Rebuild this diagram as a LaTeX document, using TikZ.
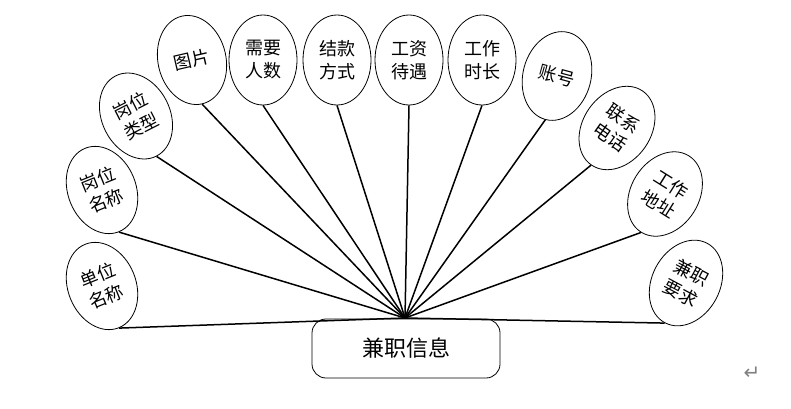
\documentclass[tikz,border=0pt]{standalone}
\usepackage{fontspec}
\usepackage{tikz}
\usetikzlibrary{shapes.geometric,positioning,calc}
\newfontfamily\cjk{Noto Sans CJK SC}
\newfontfamily\symfont{DejaVu Sans}
\tikzset{
  attr/.style={draw,ellipse,line width=0.8pt,minimum width=68pt,minimum height=90pt,inner sep=0pt,align=center,font=\cjk\fontsize{18}{23}\selectfont},
  entity/.style={draw,rounded corners=14pt,line width=0.8pt,minimum width=188pt,minimum height=59pt,font=\cjk\fontsize{22}{26}\selectfont},
  link/.style={line width=1.5pt}
}

\begin{document}
\begin{tikzpicture}[x=1pt,y=1pt]
\useasboundingbox (0,0) rectangle (791,408);
\coordinate (hub) at (405,90);
\node[entity] (info) at (406,59.5) {兼职信息};
\node[attr,rotate=22] (dwmc) at (102,122) {单位\\名称};
\node[attr,rotate=22] (gwmc) at (102,218) {岗位\\名称};
\node[attr,rotate=27] (gwlx) at (136,292) {岗位\\类型};
\node[attr,rotate=13] (tp) at (192,348) {图片};
\node[attr] (xyrs) at (263,348) {需要\\人数};
\node[attr] (jkfs) at (337,348) {结款\\方式};
\node[attr] (gzdy) at (409,348) {工资\\待遇};
\node[attr] (gzsc) at (482,348) {工作\\时长};
\node[attr,rotate=-15] (zh) at (557,332) {账号};
\node[attr,rotate=-35] (lxdh) at (617,280) {联系\\电话};
\node[attr,rotate=-32] (gzdz) at (665,214) {工作\\地址};
\node[attr,rotate=-28] (jzyq) at (686,125) {兼职\\要求};
\draw[link] (dwmc.south) -- (hub);
\draw[link] (gwmc.south) -- (hub);
\draw[link] (gwlx.south) -- (hub);
\draw[link] (tp.south) -- (hub);
\draw[link] (xyrs.south) -- (hub);
\draw[link] (jkfs.south) -- (hub);
\draw[link] (gzdy.south) -- (hub);
\draw[link] (gzsc.south) -- (hub);
\draw[link] (zh.south) -- (hub);
\draw[link] (lxdh.south) -- (hub);
\draw[link] (gzdz.south) -- (hub);
\draw[link] (jzyq.south) -- (hub);
\node[text=gray,font=\symfont\fontsize{20}{22}\selectfont] (mark) at (752,35) {↵};
\end{tikzpicture}
\end{document}
